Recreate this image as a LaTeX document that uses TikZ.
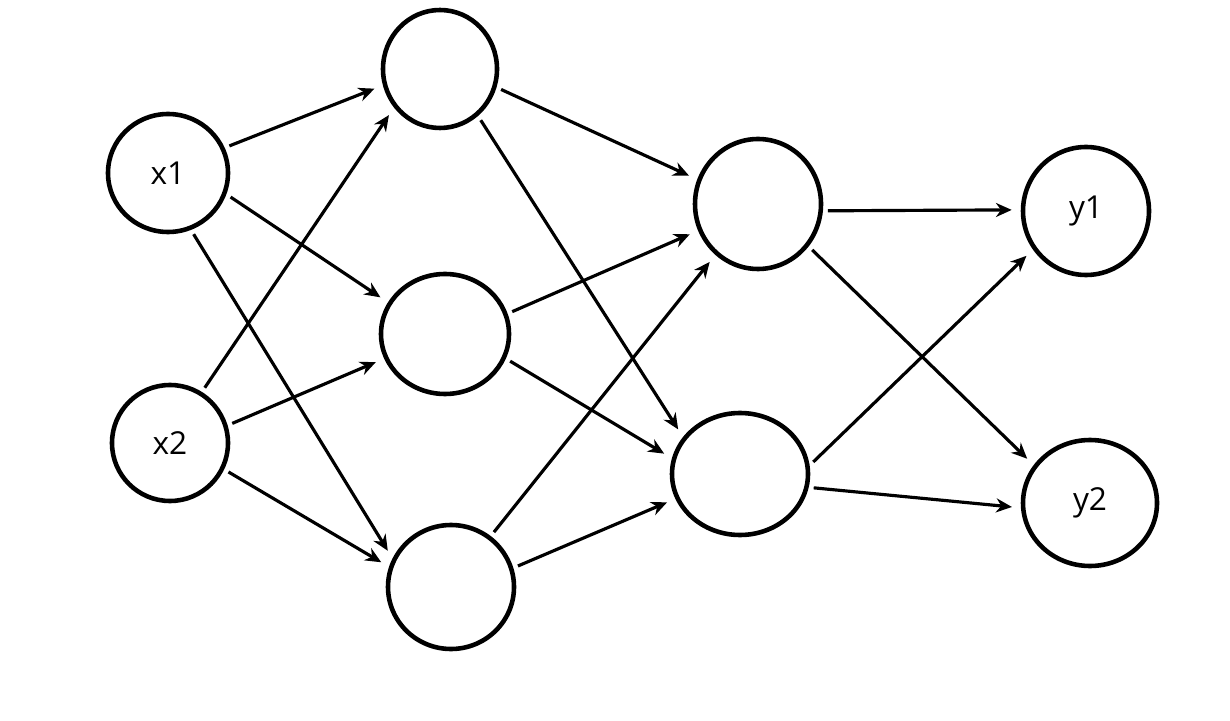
\documentclass[tikz,border=0pt]{standalone}
\usepackage{fontspec}
\setmainfont{Open Sans}
\usetikzlibrary{arrows.meta,shapes.geometric}

\tikzset{
neuron/.style={draw,ellipse,line width=2.6pt,inner sep=0pt,font=\fontsize{18}{20}\selectfont},
syn/.style={line width=1.8pt,-{Stealth[length=9pt,width=8pt]},shorten >=0.18cm,shorten <=0.1cm}
}

\begin{document}
\begin{tikzpicture}
\useasboundingbox (0,0) rectangle (24.6,14.4);
% input layer
\node[neuron,minimum width=2.4cm,minimum height=2.36cm](x1) at (3.36,10.94){x1};
\node[neuron,minimum width=2.32cm,minimum height=2.32cm](x2) at (3.40,5.54){x2};
% first hidden layer
\node[neuron,minimum width=2.28cm,minimum height=2.36cm](h1) at (8.80,13.02){};
\node[neuron,minimum width=2.56cm,minimum height=2.4cm](h2) at (8.90,7.72){};
\node[neuron,minimum width=2.52cm,minimum height=2.48cm](h3) at (9.02,2.66){};
% second hidden layer
\node[neuron,minimum width=2.52cm,minimum height=2.6cm](g1) at (15.16,10.32){};
\node[neuron,minimum width=2.72cm,minimum height=2.44cm](g2) at (14.80,4.92){};
% output layer
\node[neuron,minimum width=2.52cm,minimum height=2.56cm](y1) at (21.72,10.18){y1};
\node[neuron,minimum width=2.68cm,minimum height=2.52cm](y2) at (21.80,4.34){y2};

\draw[syn](x1.24)--(h1.196);
\draw[syn](x1.340)--(h2.151);
\draw[syn](x1.292)--(h3.154);
\draw[syn](x2.58)--(h1.220);
\draw[syn](x2.17)--(h2.202);
\draw[syn](x2.334)--(h3.162);

\draw[syn](h1.342)--(g1.158);
\draw[syn](h1.309)--(g2.147);
\draw[syn](h2.18)--(g1.204);
\draw[syn](h2.338)--(g2.167);
\draw[syn](h3.52)--(g1.230);
\draw[syn](h3.17)--(g2.201);

\draw[syn](g1.354)--(y1.179);
\draw[syn](g1.320)--(y2.146);
\draw[syn](g2.7)--(y1.216);
\draw[syn](g2.349)--(y2.184);
\end{tikzpicture}
\end{document}
